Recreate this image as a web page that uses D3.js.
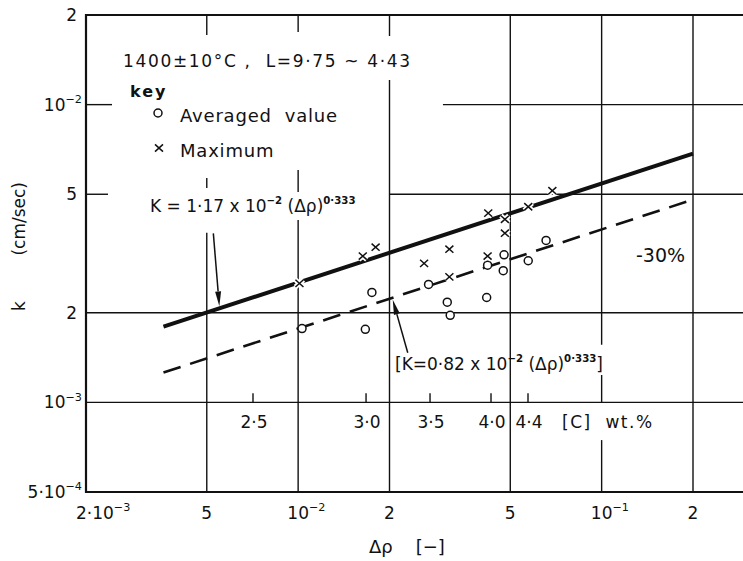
<!DOCTYPE html>
<html>
<head>
<meta charset="utf-8">
<script src="https://cdn.jsdelivr.net/npm/d3@7"></script>
<style>
  html, body { margin: 0; padding: 0; background: #fff; }
  svg { display: block; font-family: "DejaVu Sans", sans-serif; }
</style>
</head>
<body>
<svg id="chart" width="743" height="561"></svg>
<script>
// Mass-transfer coefficient k against density difference Δρ, 1400±10°C

// Averaged values
const averagedDrho = [0.0103, 0.01665, 0.0175, 0.0269, 0.0310, 0.0317, 0.0421, 0.0418, 0.0477, 0.0474, 0.0573, 0.0656];
const averagedK    = [1.77e-3, 1.76e-3, 2.34e-3, 2.49e-3, 2.17e-3, 1.96e-3, 2.89e-3, 2.25e-3, 3.13e-3, 2.77e-3, 2.99e-3, 3.50e-3];

// Maximum values
const maximumDrho = [0.0101, 0.01633, 0.0180, 0.0260, 0.0315, 0.0315, 0.0423, 0.0421, 0.0480, 0.0480, 0.0573, 0.0688];
const maximumK    = [2.51e-3, 3.10e-3, 3.32e-3, 2.93e-3, 3.27e-3, 2.64e-3, 4.32e-3, 3.10e-3, 4.12e-3, 3.70e-3, 4.54e-3, 5.14e-3];

// Correlations K = c · (Δρ)^n
const fitCoefUpper = 1.17e-2;
const fitCoefLower = 0.82e-2;
const fitExponent  = 0.333;
const fitDrhoRange = [3.6e-3, 0.2];

// Axis ticks: [base, exponent]
const xTickValues = [2e-3, 5e-3, 1e-2, 2e-2, 5e-2, 1e-1, 2e-1];
const xTickLabels = [["2·10", "−3"], ["5", ""], ["10", "−2"], ["2", ""], ["5", ""], ["10", "−1"], ["2", ""]];
const yTickValues = [5e-4, 1e-3, 2e-3, 5e-3, 1e-2, 2e-2];
const yTickLabels = [["5·10", "−4"], ["10", "−3"], ["2", ""], ["5", ""], ["10", "−2"], ["2", ""]];

// Carbon content scale [C] wt.% marked along the 10^-3 line
const carbonLabels = ["2·5", "3·0", "3·5", "4·0", "4·4"];
const carbonDrho   = [7.10e-3, 1.674e-2, 2.72e-2, 4.32e-2, 5.72e-2];

const ink = "#111";
const svg = d3.select("#chart");

const x = d3.scaleLog().domain([2e-3, 2e-1]).range([86, 693]);
const y = d3.scaleLog().domain([5e-4, 2e-2]).range([492, 15]);
const xLo = 2e-3, xHi = 3e-1;   // frame continues past the right edge
const yLo = 5e-4, yHi = 2e-2;

// ---- grid: drafted lines, broken where the lettering sits ----
const hGrid = [
  { k: 1e-3, spans: [[xLo, xHi]] },
  { k: 2e-3, spans: [[xLo, xHi]] },
  { k: 5e-3, spans: [[2e-2, xHi]], tick: 22 },
  { k: 1e-2, spans: [[3.0e-2, xHi]], tick: 26 }
];
const vGrid = [
  { d: 5e-3, spans: [[5.25e-3, 5.67e-3], [yLo, 3.71e-3]], tick: 20 },
  { d: 1e-2, spans: [[5.09e-3, 6.03e-3], [yLo, 4.10e-3]], tick: 17 },
  { d: 2e-2, spans: [[yLo, 1.21e-2]], tick: 21 },
  { d: 5e-2, spans: [[yLo, yHi]] },
  { d: 1e-1, spans: [[1.56e-3, yHi], [1e-3, 1.236e-3], [yLo, 7.47e-4]] },
  { d: 2e-1, spans: [[yLo, yHi]] }
];

const grid = svg.append("g").attr("stroke", ink).attr("stroke-width", 1.4).attr("fill", "none");
hGrid.forEach(h => {
  h.spans.forEach(s => grid.append("line")
    .attr("x1", x(s[0])).attr("x2", x(s[1]))
    .attr("y1", y(h.k)).attr("y2", y(h.k)));
  if (h.tick) grid.append("line")
    .attr("x1", x(xLo)).attr("x2", x(xLo) + h.tick)
    .attr("y1", y(h.k)).attr("y2", y(h.k));
});
vGrid.forEach(v => {
  v.spans.forEach(s => grid.append("line")
    .attr("x1", x(v.d)).attr("x2", x(v.d))
    .attr("y1", y(s[0])).attr("y2", y(s[1])));
  if (v.tick) grid.append("line")
    .attr("x1", x(v.d)).attr("x2", x(v.d))
    .attr("y1", y(yHi)).attr("y2", y(yHi) + v.tick);
});

// frame
const frame = svg.append("g").attr("stroke", ink).attr("stroke-width", 2.2);
frame.append("line").attr("x1", x(xLo)).attr("x2", x(xLo)).attr("y1", y(yHi) - 1).attr("y2", y(yLo) + 1);
frame.append("line").attr("x1", x(xLo)).attr("x2", x(xHi)).attr("y1", y(yHi)).attr("y2", y(yHi));
frame.append("line").attr("x1", x(xLo)).attr("x2", x(xHi)).attr("y1", y(yLo)).attr("y2", y(yLo));

// ---- carbon content scale ----
const carbon = svg.append("g");
carbonDrho.forEach((d, i) => {
  carbon.append("line").attr("stroke", ink).attr("stroke-width", 1.4)
    .attr("x1", x(d)).attr("x2", x(d)).attr("y1", y(1e-3) - 9).attr("y2", y(1e-3));
  carbon.append("text").attr("x", x(d) + 1).attr("y", y(1e-3) + 26)
    .attr("text-anchor", "middle").attr("font-size", 17).attr("fill", ink)
    .text(carbonLabels[i]);
});
carbon.append("text").attr("x", 562).attr("y", y(1e-3) + 26)
  .attr("font-size", 17).attr("fill", ink).attr("letter-spacing", 1.5)
  .attr("xml:space", "preserve")
  .text("[C]  wt.%");

// ---- tick labels ----
function powLabel(sel, base, exp, size) {
  sel.append("tspan").text(base);
  if (exp) sel.append("tspan").attr("font-size", size * 0.66).attr("dy", -size * 0.45).text(exp);
}
const xLab = svg.append("g").attr("fill", ink);
xTickValues.forEach((v, i) => {
  const [base, exp] = xTickLabels[i];
  const t = xLab.append("text").attr("y", 519).attr("font-size", 17);
  powLabel(t, base, exp, 17);
  const baseW = t.select("tspan").node().getComputedTextLength();
  t.attr("x", i === 0 ? x(v) - 10 : x(v) - baseW / 2);
});
const yLab = svg.append("g").attr("fill", ink);
yTickValues.forEach((v, i) => {
  const [base, exp] = yTickLabels[i];
  const t = yLab.append("text").attr("y", y(v) + 6).attr("font-size", 17)
    .attr("text-anchor", "end").attr("x", exp ? 82 : 77);
  powLabel(t, base, exp, 17);
});

// axis titles
svg.append("text").attr("x", 369).attr("y", 553).attr("font-size", 18).attr("fill", ink)
  .attr("xml:space", "preserve").text("Δρ    [−]");
svg.append("text").attr("transform", "translate(25,311) rotate(-90)")
  .attr("font-size", 17).attr("fill", ink).text("k");
svg.append("text").attr("transform", "translate(25,182) rotate(-90)")
  .attr("font-size", 17).attr("fill", ink).attr("text-anchor", "end")
  .text("(cm/sec)");

// ---- fitted correlations ----
const fitLine = d3.line().x(d => x(d[0])).y(d => y(d[1]));
const upperPts = fitDrhoRange.map(d => [d, fitCoefUpper * Math.pow(d, fitExponent)]);
const lowerPts = fitDrhoRange.map(d => [d, fitCoefLower * Math.pow(d, fitExponent)]);
svg.append("path").attr("d", fitLine(lowerPts)).attr("fill", "none")
  .attr("stroke", ink).attr("stroke-width", 2.6).attr("stroke-dasharray", "18,10");
svg.append("path").attr("d", fitLine(upperPts)).attr("fill", "none")
  .attr("stroke", ink).attr("stroke-width", 4);

// ---- data markers ----
const crossPath = "M-4,-3.6L4,3.6M-4,3.6L4,-3.6";
const marks = svg.append("g");
averagedDrho.forEach((d, i) => {
  marks.append("circle").attr("cx", x(d)).attr("cy", y(averagedK[i])).attr("r", 4)
    .attr("fill", "#fff").attr("stroke", ink).attr("stroke-width", 1.5);
});
maximumDrho.forEach((d, i) => {
  const m = marks.append("g").attr("transform", `translate(${x(d)},${y(maximumK[i])})`);
  m.append("path").attr("d", crossPath).attr("stroke", "#fff").attr("stroke-width", 5);
  m.append("path").attr("d", crossPath).attr("stroke", ink).attr("stroke-width", 1.5);
});

// ---- lettering ----
const txt = svg.append("g").attr("fill", ink);
txt.append("text").attr("x", 123).attr("y", 67).attr("font-size", 17)
  .attr("xml:space", "preserve").attr("textLength", 287).attr("lengthAdjust", "spacing")
  .text("1400±10°C ,  L=9·75 ~ 4·43");
txt.append("text").attr("x", 130).attr("y", 97).attr("font-size", 16)
  .attr("font-weight", 600).attr("letter-spacing", 2).text("key");
txt.append("text").attr("x", 180).attr("y", 122).attr("font-size", 18)
  .attr("letter-spacing", 0.8).attr("xml:space", "preserve").text("Averaged  value");
txt.append("text").attr("x", 180).attr("y", 157).attr("font-size", 18)
  .attr("letter-spacing", 0.8).text("Maximum");
svg.append("circle").attr("cx", 158).attr("cy", 113).attr("r", 4)
  .attr("fill", "#fff").attr("stroke", ink).attr("stroke-width", 1.5);
svg.append("path").attr("transform", "translate(159,148)").attr("d", crossPath)
  .attr("stroke", ink).attr("stroke-width", 1.5);

// text made of plain runs and raised exponents
function formula(xp, yp, parts, size) {
  const t = txt.append("text").attr("x", xp).attr("y", yp).attr("font-size", size)
    .attr("xml:space", "preserve");
  const rise = size * 0.5;
  let raised = false;
  parts.forEach(p => {
    if (typeof p === "object") {
      t.append("tspan").attr("font-size", size * 0.6).attr("font-weight", "bold")
        .attr("dy", raised ? 0 : -rise).text(p.exp);
      raised = true;
    } else {
      t.append("tspan").attr("dy", raised ? rise : 0).text(p);
      raised = false;
    }
  });
  return t;
}
formula(150, 212, ["K = 1·17 x 10", { exp: "−2" }, " (Δρ)", { exp: "0·333" }], 17);
formula(395, 370, ["[K=0·82 x 10", { exp: "−2" }, " (Δρ)", { exp: "0·333" }, "]"], 17);
txt.append("text").attr("x", 636).attr("y", 262).attr("font-size", 19).text("-30%");

// ---- pointer arrows ----
function arrow(x1, y1, x2, y2) {
  const a = svg.append("g");
  const ang = Math.atan2(y2 - y1, x2 - x1), L = 15, W = 3;
  const bx = x2 - L * Math.cos(ang), by = y2 - L * Math.sin(ang);
  a.append("line").attr("x1", x1).attr("y1", y1).attr("x2", bx).attr("y2", by)
    .attr("stroke", ink).attr("stroke-width", 1.5);
  a.append("path").attr("fill", ink).attr("d",
    `M${x2},${y2}L${bx + W * Math.sin(ang)},${by - W * Math.cos(ang)}L${bx - W * Math.sin(ang)},${by + W * Math.cos(ang)}Z`);
}
const upTip = 5.5e-3, loTip = 2.05e-2;
arrow(x(upTip) - 6, y(fitCoefUpper * Math.pow(upTip, fitExponent)) - 75,
      x(upTip), y(fitCoefUpper * Math.pow(upTip, fitExponent)) - 2);
arrow(x(loTip) + 15, y(fitCoefLower * Math.pow(loTip, fitExponent)) + 55,
      x(loTip), y(fitCoefLower * Math.pow(loTip, fitExponent)) + 2);
</script>
</body>
</html>
